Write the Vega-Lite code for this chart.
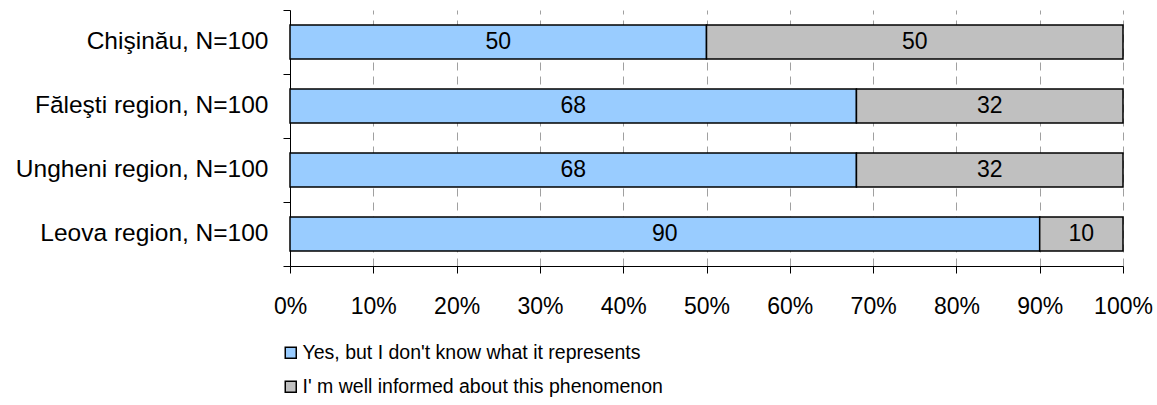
{
  "$schema": "https://vega.github.io/schema/vega-lite/v6.json",
  "autosize": "none",
  "width": 833,
  "height": 256,
  "padding": {"left": 290, "top": 10, "right": 34, "bottom": 139},
  "background": "white",
  "config": {"font": "Liberation Sans", "view": {"stroke": null}},
  "data": {
    "values": [
      {"region": "Chişinău, N=100", "answer": "Yes, but I don't know what it represents", "order": 1, "value": 50},
      {"region": "Chişinău, N=100", "answer": "I' m well informed about this phenomenon", "order": 2, "value": 50},
      {"region": "Făleşti region, N=100", "answer": "Yes, but I don't know what it represents", "order": 1, "value": 68},
      {"region": "Făleşti region, N=100", "answer": "I' m well informed about this phenomenon", "order": 2, "value": 32},
      {"region": "Ungheni region, N=100", "answer": "Yes, but I don't know what it represents", "order": 1, "value": 68},
      {"region": "Ungheni region, N=100", "answer": "I' m well informed about this phenomenon", "order": 2, "value": 32},
      {"region": "Leova region, N=100", "answer": "Yes, but I don't know what it represents", "order": 1, "value": 90},
      {"region": "Leova region, N=100", "answer": "I' m well informed about this phenomenon", "order": 2, "value": 10}
    ]
  },
  "resolve": {"axis": {"y": "independent"}},
  "layer": [
    {
      "mark": {"type": "bar", "height": {"band": 0.53}, "stroke": "black", "strokeWidth": 1.5},
      "encoding": {
        "y": {
          "field": "region", "type": "nominal",
          "sort": ["Chişinău, N=100", "Făleşti region, N=100", "Ungheni region, N=100", "Leova region, N=100"],
          "scale": {"paddingInner": 0, "paddingOuter": 0},
          "axis": {"orient": "left", "title": null, "ticks": false, "domain": false, "labelPadding": 22, "labelFontSize": 24.5, "labelColor": "black", "labelLimit": 400}
        },
        "x": {
          "field": "value", "type": "quantitative", "stack": "zero",
          "scale": {"domain": [0, 100], "nice": false},
          "axis": {
            "title": null, "values": [0, 10, 20, 30, 40, 50, 60, 70, 80, 90, 100],
            "labelExpr": "datum.value + '%'", "labelFlush": false,
            "grid": true, "gridDash": [8, 6], "gridColor": "#a0a0a0", "gridWidth": 1,
            "domainColor": "black", "domainWidth": 1, "tickColor": "black", "tickSize": 7,
            "labelFontSize": 23, "labelColor": "black", "labelPadding": 22
          }
        },
        "color": {
          "field": "answer", "type": "nominal",
          "scale": {"domain": ["Yes, but I don't know what it represents", "I' m well informed about this phenomenon"], "range": ["#99CCFF", "#C0C0C0"]},
          "legend": {
            "title": null, "orient": "none", "legendX": -9, "legendY": 333, "direction": "vertical",
            "symbolType": "square", "symbolSize": 121, "symbolStrokeColor": "black", "symbolStrokeWidth": 1.5,
            "labelFontSize": 19.5, "labelColor": "black", "labelLimit": 600, "labelOffset": 2, "rowPadding": 13
          }
        },
        "order": {"field": "order", "type": "quantitative"}
      }
    },
    {
      "transform": [
        {"stack": "value", "groupby": ["region"], "sort": [{"field": "order", "order": "ascending"}], "as": ["v0", "v1"]},
        {"calculate": "(datum.v0 + datum.v1) / 2", "as": "mid"}
      ],
      "mark": {"type": "text", "fontSize": 23, "color": "black", "baseline": "middle", "align": "center"},
      "encoding": {
        "y": {
          "field": "region", "type": "nominal",
          "sort": ["Chişinău, N=100", "Făleşti region, N=100", "Ungheni region, N=100", "Leova region, N=100"],
          "axis": {"orient": "left", "title": null, "labels": false, "ticks": true, "tickExtra": true, "bandPosition": 1, "tickSize": 7, "tickColor": "black", "domain": true, "domainColor": "black", "grid": false}
        },
        "x": {
          "field": "mid", "type": "quantitative",
          "axis": {
            "title": null, "values": [0, 10, 20, 30, 40, 50, 60, 70, 80, 90, 100],
            "labelExpr": "datum.value + '%'", "labelFlush": false,
            "grid": true, "gridDash": [8, 6], "gridColor": "#a0a0a0", "gridWidth": 1,
            "domainColor": "black", "domainWidth": 1, "tickColor": "black", "tickSize": 7,
            "labelFontSize": 23, "labelColor": "black", "labelPadding": 22
          }
        },
        "text": {"field": "value", "type": "quantitative"}
      }
    }
  ]
}
